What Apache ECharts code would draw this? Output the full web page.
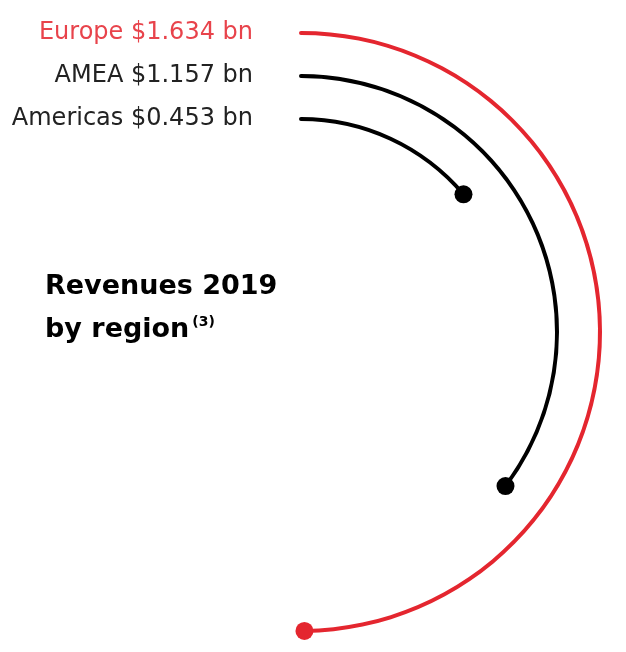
<!DOCTYPE html>
<html>
<head>
<meta charset="utf-8">
<script src="https://cdn.jsdelivr.net/npm/echarts@6/dist/echarts.min.js"></script>
<style>
  html, body { margin: 0; padding: 0; background: #fff; }
  #chart { width: 626px; height: 652px; }
</style>
</head>
<body>
<div id="chart"></div>
<script>
// inner ring first
const regions = ['Americas', 'AMEA', 'Europe']
const revenues = [0.453, 1.157, 1.634]
const ringColors = ['#000000', '#000000', '#e4262f']
const labelColors = ['#222222', '#222222', '#e8434b']
const angleMax = 3.28 // Europe ends just short of half a turn

const chart = echarts.init(document.getElementById('chart'))

const labelFont = 'DejaVu Sans'

const option = {
  animation: false,
  title: {
    text: 'Revenues 2019\nby region{sup|(3)}',
    left: 40,
    top: 260,
    textStyle: {
      fontFamily: 'DejaVu Sans',
      fontWeight: 'bold',
      fontSize: 27,
      lineHeight: 43,
      color: '#000',
      rich: {
        sup: {
          fontFamily: 'DejaVu Sans',
          fontWeight: 'bold',
          fontSize: 14,
          verticalAlign: 'middle',
          padding: [0, 0, 14, 3],
          color: '#000'
        }
      }
    }
  },
  polar: {
    center: [301, 332],
    radius: [191.5, 320.5]
  },
  angleAxis: {
    type: 'value',
    min: 0,
    max: angleMax,
    startAngle: 90,
    clockwise: true,
    show: false
  },
  radiusAxis: {
    type: 'category',
    data: regions,
    axisLine: { show: false },
    axisTick: { show: false },
    splitLine: { show: false },
    axisLabel: {
      interval: 0,
      hideOverlap: false,
      margin: 48,
      fontFamily: labelFont,
      fontSize: 24,
      formatter: (name, i) => '{r' + i + '|' + name + ' $' + revenues[i].toFixed(3) + ' bn}',
      rich: {
        r0: { color: labelColors[0], fontFamily: labelFont, fontSize: 24 },
        r1: { color: labelColors[1], fontFamily: labelFont, fontSize: 24 },
        r2: { color: labelColors[2], fontFamily: labelFont, fontSize: 24 }
      }
    }
  },
  series: [
    {
      type: 'bar',
      coordinateSystem: 'polar',
      barWidth: 4,
      roundCap: true,
      data: revenues.map((v, i) => ({ value: v, itemStyle: { color: ringColors[i] } }))
    },
    {
      type: 'scatter',
      coordinateSystem: 'polar',
      symbolSize: 18,
      z: 3,
      data: revenues.map((v, i) => ({ value: [regions[i], v], itemStyle: { color: ringColors[i], opacity: 1 } }))
    }
  ]
}

chart.setOption(option)
</script>
</body>
</html>
